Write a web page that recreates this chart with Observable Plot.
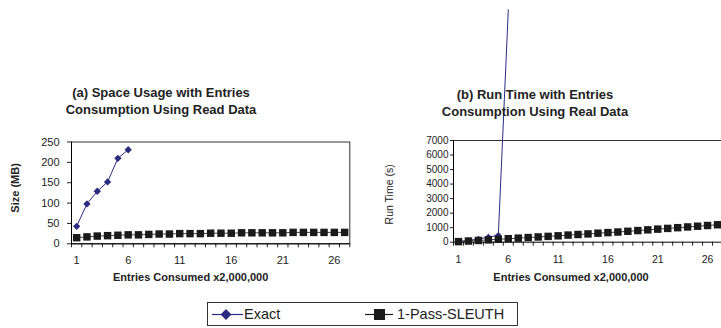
<!DOCTYPE html>
<html>
<head>
<meta charset="utf-8">
<script src="https://cdn.jsdelivr.net/npm/d3@7"></script>
<script src="https://cdn.jsdelivr.net/npm/@observablehq/plot@0.6"></script>
<style>
  html, body { margin: 0; padding: 0; background: #fff; }
  #wrap { position: relative; width: 721px; height: 328px; overflow: hidden; background: #fff;
          font-family: "Liberation Sans", Arial, sans-serif; color: #222; }
  .title { position: absolute; width: 300px; text-align: center; font-weight: bold; font-size: 13px; line-height: 17px; color: #222; }
  #legend { position: absolute; left: 207px; top: 302px; width: 311px; height: 24px; border: 1px solid #333; box-sizing: border-box; }
  .li { position: absolute; top: 0; height: 22px; line-height: 22px; font-size: 14.5px; color: #222; }
  .sw { position: absolute; top: 0; }
</style>
</head>
<body>
<div id="wrap"></div>
<script>
// ---------- data ----------
const categories = [1,2,3,4,5,6,7,8,9,10,11,12,13,14,15,16,17,18,19,20,21,22,23,24,25,26,27];
const categoryBounds = [0.5,1.5,2.5,3.5,4.5,5.5,6.5,7.5,8.5,9.5,10.5,11.5,12.5,13.5,14.5,15.5,16.5,17.5,18.5,19.5,20.5,21.5,22.5,23.5,24.5,25.5,26.5,27.5];
const xTickLabels = [1, 6, 11, 16, 21, 26];

// (a) space usage, MB
const spaceExact  = [43, 98, 129, 152, 210, 231];
const spaceSleuth = [15, 17, 19, 20, 21, 22, 22, 23, 24, 24, 25, 25, 25, 26, 26, 26, 27, 27, 27, 27, 27, 28, 28, 28, 28, 28, 28];
const spaceTicks  = [0, 50, 100, 150, 200, 250];

// (b) run time, s
const timeExact  = [60, 120, 220, 350, 480, 16000];
const timeSleuth = [40, 80, 120, 160, 200, 240, 280, 320, 360, 400, 440, 490, 530, 570, 620, 660, 700, 750, 800, 850, 900, 950, 1000, 1050, 1100, 1150, 1200];
const timeTicks  = [0, 1000, 2000, 3000, 4000, 5000, 6000, 7000];

const titleA = ["(a) Space Usage with Entries", "Consumption Using Read Data"];
const titleB = ["(b) Run Time with Entries", "Consumption Using Real Data"];
const xTitle = "Entries Consumed x2,000,000";
const yTitleA = "Size (MB)";
const yTitleB = "Run Time (s)";
const seriesNames = ["Exact", "1-Pass-SLEUTH"];

const NAVY = "#2b2c80";
const BLACK = "#1a1a1a";
const FONT = "'Liberation Sans', Arial, sans-serif";

const toRows = (vals) => vals.map((v, i) => ({x: categories[i], y: v}));
const plain = (d) => String(d);

const wrap = document.getElementById("wrap");

// ---------- panel (a) ----------
const plotA = Plot.plot({
  width: 360, height: 290,
  marginLeft: 71, marginRight: 10.7, marginTop: 141.5, marginBottom: 46.7,
  x: {domain: [0.5, 27.5]},
  y: {domain: [0, 250]},
  style: {fontFamily: FONT, fontSize: "11px", color: "#222", background: "transparent"},
  marks: [
    Plot.frame({stroke: "#333"}),
    Plot.axisY({ticks: spaceTicks, tickSize: 4, tickPadding: 8, tickFormat: plain, label: null, fontSize: 11}),
    Plot.axisX({ticks: categoryBounds, tickSize: 4, tickFormat: () => "", label: null}),
    Plot.axisX({ticks: xTickLabels, tickSize: 0, tickPadding: 12.5, tickFormat: plain, label: null, fontSize: 11}),
    Plot.ruleX([0.5], {stroke: "#000"}),
    Plot.ruleY([0], {stroke: "#000"}),
    Plot.line(toRows(spaceExact), {x: "x", y: "y", stroke: NAVY, strokeWidth: 1}),
    Plot.dot(toRows(spaceExact), {x: "x", y: "y", symbol: "diamond2", r: 3.3, fill: NAVY, stroke: null}),
    Plot.line(toRows(spaceSleuth), {x: "x", y: "y", stroke: "#444", strokeWidth: 1}),
    Plot.dot(toRows(spaceSleuth), {x: "x", y: "y", symbol: "square", r: 4.2, fill: BLACK, stroke: null}),
    Plot.text([xTitle], {frameAnchor: "bottom", lineAnchor: "middle", textAnchor: "middle", dy: 33.7, dx: -20, fontWeight: "bold", fontSize: 11, fill: "#222"}),
    Plot.text([yTitleA], {frameAnchor: "left", textAnchor: "middle", lineAnchor: "middle", rotate: -90, dx: -56, dy: -5, fontWeight: "bold", fontSize: 11, fill: "#222"})
  ]
});
plotA.style.position = "absolute";
plotA.style.left = "0px";
plotA.style.top = "0px";
wrap.appendChild(plotA);

// ---------- panel (b) ----------
const plotB = Plot.plot({
  width: 362, height: 290,
  marginLeft: 93, marginRight: 0, marginTop: 140, marginBottom: 48.3,
  x: {domain: [0.5, 27.5]},
  y: {domain: [0, 7000]},
  style: {fontFamily: FONT, fontSize: "10px", color: "#222", background: "transparent", overflow: "visible"},
  marks: [
    Plot.ruleY([7000], {stroke: "#333"}),
    Plot.axisY({ticks: timeTicks, tickSize: 3, tickPadding: 2, tickFormat: plain, label: null, fontSize: 10, style: {letterSpacing: "2.2px"}}),
    Plot.axisX({ticks: categoryBounds, tickSize: 4, tickFormat: () => "", label: null}),
    Plot.axisX({ticks: xTickLabels, tickSize: 0, tickPadding: 13, tickFormat: plain, label: null, fontSize: 10.5}),
    Plot.ruleX([0.5], {stroke: "#000"}),
    Plot.ruleY([0], {stroke: "#000"}),
    Plot.line(toRows(timeExact), {x: "x", y: "y", stroke: NAVY, strokeWidth: 1}),
    Plot.dot(toRows(timeExact), {x: "x", y: "y", filter: d => d.y <= 7000, symbol: "diamond2", r: 3, fill: NAVY, stroke: null}),
    Plot.line(toRows(timeSleuth), {x: "x", y: "y", stroke: "#444", strokeWidth: 1}),
    Plot.dot(toRows(timeSleuth), {x: "x", y: "y", symbol: "square", r: 4.2, fill: BLACK, stroke: null}),
    Plot.text([xTitle], {frameAnchor: "bottom", lineAnchor: "middle", textAnchor: "middle", dy: 35.3, dx: -17, fontWeight: "bold", fontSize: 11, fill: "#222"}),
    Plot.text([yTitleB], {frameAnchor: "left", textAnchor: "middle", lineAnchor: "middle", rotate: -90, dx: -64, dy: 3, fontWeight: "normal", fontSize: 10.5, fill: "#222"})
  ]
});
plotB.style.position = "absolute";
plotB.style.left = "360px";
plotB.style.top = "0px";
wrap.appendChild(plotB);

// ---------- titles ----------
function addTitle(lines, cx, top) {
  const d = document.createElement("div");
  d.className = "title";
  d.style.left = (cx - 150) + "px";
  d.style.top = top + "px";
  d.innerHTML = lines.join("<br>");
  wrap.appendChild(d);
}
addTitle(titleA, 161, 83.5);
addTitle(titleB, 535, 85.5);

// ---------- legend ----------
const lg = document.createElement("div");
lg.id = "legend";
lg.innerHTML = `
  <svg class="sw" style="left:4px" width="32" height="22">
    <line x1="0" x2="31" y1="11.5" y2="11.5" stroke="${NAVY}" stroke-width="1.2"/>
    <path d="M14,6 L19.5,11.5 L14,17 L8.5,11.5 Z" fill="${NAVY}"/>
  </svg>
  <span class="li" style="left:36px">${seriesNames[0]}</span>
  <svg class="sw" style="left:157px" width="30" height="22">
    <line x1="0" x2="28" y1="11.5" y2="11.5" stroke="${BLACK}" stroke-width="1.2"/>
    <rect x="9" y="6" width="11" height="11" fill="${BLACK}"/>
  </svg>
  <span class="li" style="left:189px">${seriesNames[1]}</span>`;
wrap.appendChild(lg);
</script>
</body>
</html>
